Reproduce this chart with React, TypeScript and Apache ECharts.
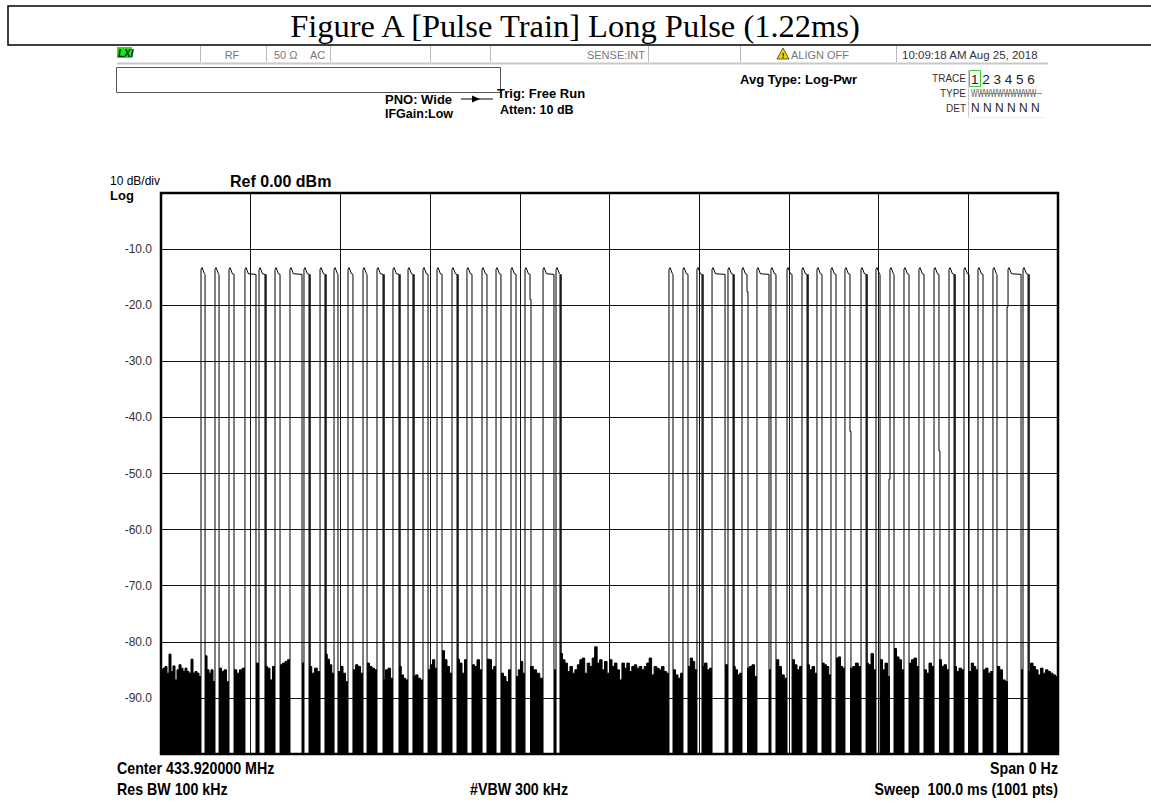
import React, { useEffect, useRef } from 'react';
import * as echarts from 'echarts';

// ---------------- data ----------------
const SWEEP_MS = 100;
const REF_DB = 0;
const BOTTOM_DB = -100;
const yTickLabels = ['-10.0', '-20.0', '-30.0', '-40.0', '-50.0', '-60.0', '-70.0', '-80.0', '-90.0'];

// pulse rising / falling edge times (ms)
const pulseStart = [4.46, 6.02, 7.58, 9.36, 10.93, 12.71, 14.38, 15.94, 17.73, 19.29, 20.85, 22.52, 24.08, 25.86, 27.54, 29.21, 30.77, 32.44, 34.11, 35.79, 37.35, 39.02, 40.58, 42.59, 44.04,
  56.63, 58.19, 59.75, 61.43, 63.21, 64.77, 66.44, 68.0, 69.79, 71.46, 73.13, 74.69, 76.25, 78.04, 79.71, 81.27, 82.83, 84.5, 86.18, 87.85, 89.52, 91.08, 92.75, 94.43, 96.1];
const pulseEnd = [4.91, 6.47, 8.14, 10.59, 11.59, 13.27, 15.72, 16.5, 18.28, 19.73, 21.4, 22.97, 24.75, 26.53, 28.09, 29.77, 31.33, 33.0, 34.67, 36.34, 37.9, 39.58, 41.14, 43.81, 44.48,
  57.08, 58.75, 60.31, 62.88, 63.77, 65.33, 67.78, 68.56, 70.35, 72.02, 73.69, 75.25, 76.81, 78.6, 80.16, 81.72, 83.39, 85.06, 86.73, 88.41, 90.08, 91.64, 93.2, 95.88, 96.66];
const pulsePeakDb = -13.3;
const pulseRiseDb = -13.6;
const pulseTailDb = -14.5;
// pulses whose falling edge is drawn twice (two samples)
const thickFall = [4, 7, 8, 12, 13, 14, 17, 24, 27, 29, 34, 38, 44, 49];
// intermediate samples on some edges: [pulse index, edge, dB]
const edgeSteps: [number, string, number][] = [
  [22, 'fall', -19.0], [30, 'fall', -17.6], [37, 'fall', -42.5], [40, 'rise', -51.0], [43, 'fall', -46.0], [48, 'rise', -20.3],
];
// noise-floor peaks (dB) in each gap: before pulse 0, between pulses, after the last pulse
const noiseGaps: number[][] = [
  [-85.0, -84.7, -84.4, -85.6, -82.2, -85.3, -84.3, -86.8, -85.0, -84.1, -84.7, -85.3, -84.7, -85.3, -85.6, -83.1, -85.6, -85.3, -85.6, -86.2],
  [-82.5, -85.0, -85.6, -85.0, -87.1],
  [-84.7, -85.3, -85.0, -87.1],
  [-85.0, -85.6, -85.0, -84.7],
  [-83.8],
  [-84.4, -84.7, -86.8, -84.4],
  [-84.1, -83.8, -83.5, -83.2],
  [-83.8],
  [-84.4, -85.6, -84.7, -85.3],
  [-82.2, -83.1, -84.1, -85.6],
  [-85.3, -84.4, -85.6, -87.1],
  [-85.0, -84.1, -84.4, -85.6],
  [-83.8, -84.4, -84.7, -85.0],
  [-86.8, -85.0, -84.7, -86.5],
  [-84.4, -85.9, -86.5, -86.8],
  [-86.2, -85.9, -86.5, -86.8],
  [-85.0, -84.1, -83.2, -84.7],
  [-81.6, -83.2, -84.4, -85.6],
  [-83.1, -83.8, -85.6, -83.2],
  [-84.1, -84.4, -83.2, -85.0],
  [-83.1, -83.2, -85.0, -84.4],
  [-85.6, -86.2, -87.1, -85.0],
  [-86.2, -85.0, -83.5, -85.6],
  [-84.4, -85.0, -85.6, -86.5],
  [-85.0],
  [-82.1, -83.2, -83.8, -85.3, -84.4, -85.6, -85.0, -84.1, -83.2, -82.9, -85.6, -83.8, -84.4, -82.9, -80.9, -83.8, -83.2, -85.0, -83.5, -85.6, -83.2, -84.4, -83.8, -85.0, -86.8, -83.8, -84.7, -83.8, -85.3, -84.4, -84.1, -84.7, -84.4, -85.0, -84.4, -83.8, -82.9, -85.9, -84.4, -84.7, -85.0, -84.4, -85.3, -85.6],
  [-85.0, -85.9, -86.5, -85.6],
  [-84.4, -82.9, -83.5, -85.0],
  [-84.4, -83.8, -85.0, -84.7],
  [-84.1],
  [-84.4, -85.0, -85.9, -85.6],
  [-84.7, -84.4, -84.1, -86.2],
  [-85.0],
  [-83.2, -84.4, -85.9, -86.5],
  [-83.2, -84.1, -85.0, -84.4],
  [-84.1, -85.0, -84.4, -85.6],
  [-83.8, -84.1, -84.4, -85.9],
  [-82.9, -82.7, -84.4, -84.7],
  [-84.7, -84.4, -83.8, -84.4],
  [-83.8, -84.1, -82.1, -85.0],
  [-83.2, -85.0, -83.8, -86.2],
  [-81.2, -82.7, -83.2, -85.0],
  [-83.8, -83.2, -82.9, -84.4],
  [-85.0, -85.6, -83.8, -84.4],
  [-83.2, -84.4, -84.1, -85.0],
  [-84.4, -85.3, -84.7, -85.0],
  [-85.3, -83.8, -84.4, -85.0],
  [-85.0, -84.7, -85.6, -85.3],
  [-84.4, -85.0, -86.8, -87.1],
  [-85.0],
  [-85.3, -83.8, -84.4, -85.0, -85.9, -84.7, -85.6, -85.0, -85.3, -85.6, -85.9, -86.2],
];

const headerTitle = 'Figure A [Pulse Train] Long Pulse (1.22ms)';
const dateText = '10:09:18 AM Aug 25, 2018';

// ---------------- build series data ----------------
const GAP: any = '-';
function buildNoise() {
  const pts: any[] = [];
  for (let g = 0; g < noiseGaps.length; g++) {
    const a = g === 0 ? 0 : pulseEnd[g - 1];
    const b = g === noiseGaps.length - 1 ? SWEEP_MS : pulseStart[g];
    const vals = noiseGaps[g];
    const w = (b - a) / vals.length;
    for (let k = 0; k < vals.length; k++) {
      pts.push([a + k * w, vals[k]]);
      pts.push([a + (k + 1) * w, vals[k]]);
    }
    pts.push([b + 0.01, GAP]);
  }
  return pts;
}
function buildPulses() {
  const pts: any[] = [];
  const dt = 0.11;
  for (let i = 0; i < pulseStart.length; i++) {
    const s = pulseStart[i];
    const e = pulseEnd[i];
    const rise = edgeSteps.find((d) => d[0] === i && d[1] === 'rise');
    const fall = edgeSteps.find((d) => d[0] === i && d[1] === 'fall');
    if (rise) {
      pts.push([s - dt, BOTTOM_DB], [s - dt, rise[2]], [s, rise[2]]);
    } else {
      pts.push([s, BOTTOM_DB]);
    }
    pts.push([s, pulseRiseDb], [s + 0.12, pulsePeakDb], [Math.min(s + 0.38, e), pulseTailDb + 0.1], [e, pulseTailDb]);
    if (fall) {
      pts.push([e, fall[2]], [e + dt, fall[2]], [e + dt, BOTTOM_DB]);
    } else if (thickFall.includes(i)) {
      pts.push([e, BOTTOM_DB], [e + dt, BOTTOM_DB], [e + dt, pulseTailDb], [e + dt, BOTTOM_DB]);
    } else {
      pts.push([e, BOTTOM_DB]);
    }
    pts.push([e + 0.2, GAP]);
  }
  return pts;
}

// ---------------- layout ----------------
const PL = 161, PT = 193, PW = 897, PH = 561;
const SANS = 'Liberation Sans, Arial, sans-serif';

function txt(text: string, x: number, y: number, o: any = {}) {
  const align = o.align || 'left';
  return {
    type: 'text', x, y, z: 100, scaleX: o.scaleX || 1,
    style: {
      text, fontSize: o.size || 12, fontFamily: o.family || SANS, fontWeight: o.weight || 'normal', fontStyle: o.style || 'normal',
      fill: o.color || '#000', align, textAlign: align, verticalAlign: 'middle', textVerticalAlign: 'middle',
    },
  };
}
function vline(x: number, y1: number, y2: number, color = '#bbb', w = 1) {
  return { type: 'line', z: 100, shape: { x1: x, y1, x2: x, y2 }, style: { stroke: color, lineWidth: w } };
}
function hline(x1: number, x2: number, y: number, color = '#bbb', w = 1) {
  return { type: 'line', z: 100, shape: { x1, y1: y, x2, y2: y }, style: { stroke: color, lineWidth: w } };
}

function buildGraphics() {
  const g: any[] = [];
  // title box
  g.push({ type: 'rect', z: 100, shape: { x: 8, y: 6, width: 1170, height: 39 }, style: { fill: 'none', stroke: '#000', lineWidth: 1.5 } });
  g.push(txt(headerTitle, 575, 25.5, { size: 32.5, family: 'Liberation Serif, Times New Roman, serif', align: 'center' }));
  // status row
  g.push({ type: 'rect', z: 100, shape: { x: 117, y: 47, width: 15, height: 11 }, style: { fill: '#22e022' } });
  g.push(txt('LXI', 118, 53, { size: 10, weight: 'bold', style: 'italic', color: '#062a06' }));
  [200, 266, 330, 430, 490, 648, 740, 896].forEach((x) => g.push(vline(x + 0.5, 46, 62)));
  g.push(hline(117, 1048, 63.5, '#c8c8c8', 2));
  g.push(txt('RF', 232, 54.5, { size: 11, color: '#777', align: 'center' }));
  g.push(txt('50 Ω', 274, 54.5, { size: 11, color: '#777' }));
  g.push(txt('AC', 310, 54.5, { size: 11, color: '#777' }));
  g.push(txt('SENSE:INT', 645, 54.5, { size: 11, color: '#777', align: 'right' }));
  g.push({ type: 'polygon', z: 100, shape: { points: [[777, 59], [783, 48], [789, 59]] }, style: { fill: '#f2d400', stroke: '#333', lineWidth: 0.8 } });
  g.push(txt('!', 783, 55, { size: 8, weight: 'bold', align: 'center' }));
  g.push(txt('ALIGN OFF', 791, 54.5, { size: 11, color: '#777' }));
  g.push(txt(dateText, 902, 54.5, { size: 11.5, color: '#333' }));
  // message box
  g.push({ type: 'rect', z: 100, shape: { x: 116.5, y: 67.5, width: 384, height: 25 }, style: { fill: '#fff', stroke: '#555', lineWidth: 1 } });
  g.push(txt('PNO: Wide', 385, 99, { size: 13, weight: 'bold' }));
  g.push(hline(461, 493, 99, '#000', 1));
  g.push({ type: 'polygon', z: 100, shape: { points: [[472, 95.5], [472, 102.5], [480, 99]] }, style: { fill: '#000' } });
  g.push(txt('IFGain:Low', 385, 114, { size: 12.5, weight: 'bold' }));
  g.push(txt('Trig: Free Run', 497, 93, { size: 13, weight: 'bold' }));
  g.push(txt('Atten: 10 dB', 500, 110, { size: 12.5, weight: 'bold' }));
  g.push(txt('Avg Type: Log-Pwr', 740, 79, { size: 13, weight: 'bold' }));
  // trace block
  g.push(vline(968.5, 70, 117, '#ccc'));
  g.push(hline(968, 1045, 117.5, '#eee'));
  g.push({ type: 'rect', z: 100, shape: { x: 969.5, y: 70.5, width: 11, height: 16 }, style: { fill: 'none', stroke: '#3c3', lineWidth: 1 } });
  g.push(txt('TRACE', 966, 78, { size: 10, color: '#333', align: 'right' }));
  g.push(txt('1 2 3 4 5 6', 971, 79, { size: 13.5, color: '#222' }));
  g.push(txt('TYPE', 966, 93, { size: 10, color: '#333', align: 'right' }));
  g.push(txt('WWWWWWWWWW', 971, 93, { size: 10.5, color: '#555', scaleX: 0.66 }));
  g.push(hline(980, 1042, 93.5, '#777', 0.8));
  g.push(txt('DET', 966, 108, { size: 10, color: '#333', align: 'right' }));
  g.push(txt('N N N N N N', 971, 108, { size: 12, color: '#222' }));
  // plot labels
  g.push(txt('10 dB/div', 110, 181, { size: 12 }));
  g.push(txt('Log', 110, 195, { size: 13, weight: 'bold' }));
  g.push(txt('Ref 0.00 dBm', 230, 181, { size: 16, weight: 'bold' }));
  // plot border
  g.push({ type: 'rect', z: 100, shape: { x: PL, y: PT, width: PW, height: PH }, style: { fill: 'none', stroke: '#000', lineWidth: 2.5 } });
  // footer
  const f = { size: 16, weight: 'bold', scaleX: 0.89 };
  g.push(txt('Center 433.920000 MHz', 117, 768, f));
  g.push(txt('Res BW 100 kHz', 117, 789, f));
  g.push(txt('#VBW 300 kHz', 470, 789, f));
  g.push(txt('Span 0 Hz', 1058, 768, { ...f, align: 'right' }));
  g.push(txt('Sweep  100.0 ms (1001 pts)', 1058, 789, { ...f, align: 'right' }));
  return g;
}

function buildOption(): any {
  return {
    animation: false,
    backgroundColor: '#fff',
    grid: { left: PL, top: PT, width: PW, height: PH, show: false },
    xAxis: {
      type: 'value', min: 0, max: SWEEP_MS, interval: 10,
      axisLabel: { show: false }, axisLine: { show: false }, axisTick: { show: false },
      splitLine: { show: true, lineStyle: { color: '#111', width: 1 } },
    },
    yAxis: {
      type: 'value', min: BOTTOM_DB, max: REF_DB, interval: 10,
      axisLine: { show: false }, axisTick: { show: false },
      axisLabel: {
        margin: 9, fontSize: 12, color: '#333', fontFamily: SANS,
        formatter: (v: number) => { const i = Math.round(-v / 10) - 1; return yTickLabels[i] || ''; },
      },
      splitLine: { show: true, lineStyle: { color: '#111', width: 1 } },
    },
    series: [
      {
        type: 'line', data: buildNoise(), symbol: 'none', connectNulls: false,
        lineStyle: { color: '#000', width: 1 },
        areaStyle: { color: '#000', opacity: 1, origin: 'start' },
        z: 3,
      },
      {
        type: 'line', data: buildPulses(), symbol: 'none', connectNulls: false,
        lineStyle: { color: '#000', width: 1 },
        z: 4,
      },
    ],
    graphic: { elements: buildGraphics() },
  };
}

export default function App() {
  const ref = useRef<HTMLDivElement>(null);
  useEffect(() => {
    document.body.style.margin = '0';
    const chart = echarts.init(ref.current as HTMLDivElement, null, { renderer: 'svg' });
    chart.setOption(buildOption());
    return () => chart.dispose();
  }, []);
  return <div ref={ref} style={{ width: 1151, height: 805 }} />;
}
